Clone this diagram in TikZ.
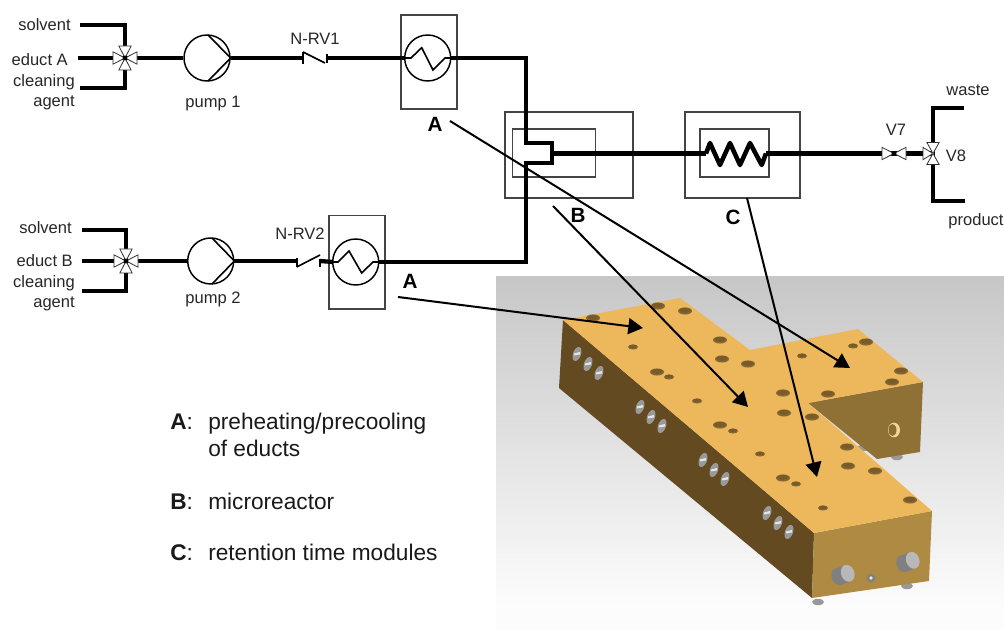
\documentclass[tikz,border=0pt]{standalone}
\usepackage{fontspec}
\setmainfont{Liberation Sans}
\usetikzlibrary{arrows.meta,shapes.geometric}
\definecolor{topface}{HTML}{EDB85C}
\definecolor{sideface}{HTML}{644A20}
\definecolor{frontface}{HTML}{AE8A42}
\definecolor{notchface}{HTML}{8F7136}
\definecolor{boxline}{HTML}{444444}
\tikzset{
  pipe/.style={line width=3.2pt,black,miter limit=10},
  thinpipe/.style={line width=1.2pt,black},
  framebox/.style={draw=boxline,line width=1.4pt},
  wheel/.style={circle,draw=black,line width=1.1pt,fill=white,inner sep=0pt,minimum size=34.5pt},
  lbl/.style={font=\fontsize{12.4pt}{14pt}\selectfont,text=black!85,inner sep=0pt,yshift=-1.5pt},
  letter/.style={font=\fontsize{15.5pt}{18pt}\selectfont\bfseries,inner sep=0pt,yshift=-2.8pt},
  legend/.style={font=\fontsize{17pt}{20pt}\selectfont,inner sep=0pt,text=black!90,yshift=-3pt},
  pointer/.style={line width=1.5pt,-{Triangle[length=11pt,width=12pt]}},
  valvetri/.style={draw=black!80,line width=.6pt,fill=white,line join=miter},
}
\newcommand{\hole}[3]{%
  \fill[black!20!topface!70!black] (#1,#2) ellipse [x radius=#3*.75pt,y radius=#3*.38pt];
  \fill[sideface!85!topface] (#1,#2-.6) ellipse [x radius=#3*.6pt,y radius=#3*.27pt];}
\newcommand{\screw}[2]{%
  \fill[black!40,rotate around={70:(#1,#2)}] (#1,#2) ellipse [x radius=5.5pt,y radius=3pt];
  \fill[black!10] (#1-3,#2-.5) -- (#1+3,#2-2) -- (#1+3,#2+.5) -- (#1-3,#2+1.5) -- cycle;}
\newcommand{\foot}[2]{\fill[black!40] (#1,#2) ellipse [x radius=4.5pt,y radius=2.4pt];}
% triangle pointing at (#1) from direction #2 (deg)
\newcommand{\vtri}[3]{\draw[valvetri,shift={(#1)},rotate=#2] (0,0) -- (#3*.75pt,4.6pt) -- (#3*.75pt,-4.6pt) -- cycle;}
\begin{document}
\begin{tikzpicture}[x=0.75pt,y=-0.75pt]
\useasboundingbox (0,0) rectangle (1004,630);
% photo background
\shade[top color=black!22,bottom color=black!1] (496,277) rectangle (1004,608);
\fill[black!1] (496,608) rectangle (1004,630);
% feet behind block
\foot{818}{602}\foot{907}{586}\foot{897}{457}\foot{863}{448}
% block faces
\fill[notchface] (808,403) -- (923,382) -- (920,452) -- (877,459) -- cycle;
\fill[sideface] (563,320) -- (559,388) -- (812,598) -- (814,533) -- cycle;
\fill[frontface] (814,533) -- (932,511) -- (929,581) -- (812,598) -- cycle;
\fill[topface] (563,320) -- (680,298) -- (750,350) -- (858,329) -- (923,382) -- (808,403) -- (932,511) -- (814,533) -- cycle;
% holes
\foreach \hx/\hy/\hr in {658/306/7,685/311/7,593/318/7,633/347/5,657/372/7,669/377/5,697/401/5,720/340/7,722/359/7,748/364/7,720/425/7,733/431/5,866/342/7,853/346/5,802/356/5,901/371/7,892/382/7,783/393/7,828/394/7,784/413/7,812/417/7,760/454/5,847/447/7,848/466/7,875/471/7,783/478/7,796/484/5,910/500/7,823/508/5}{\hole{\hx}{\hy}{\hr}}
% side screws
\foreach \sx/\sy in {577/354,588/364,599/373,640/407,651/417,662/426,703/460,714/470,725/479,767/513,778/523,789/532}{\screw{\sx}{\sy}}
% notch port
\fill[topface!60!white] (894,430) ellipse [x radius=4.5pt,y radius=5.5pt];
\fill[frontface!80!black] (892.5,430) ellipse [x radius=3pt,y radius=4.5pt];
% front bolts
\foreach \bx/\by in {843/575,908/562}{
  \fill[black!50,rotate around={20:(\bx,\by)}] (\bx-5,\by) ellipse [x radius=5pt,y radius=6.5pt];
  \fill[black!50,rotate around={20:(\bx,\by)}] (\bx-5,\by-8.5) rectangle (\bx+5,\by+8.5);
  \fill[black!28,rotate around={20:(\bx,\by)}] (\bx+5,\by) ellipse [x radius=5pt,y radius=6.5pt];
}
\fill[black!50] (871,578) circle [radius=3.2pt];
\fill[black!10] (871,578) circle [radius=1.4pt];

% frames
\node[framebox,inner sep=0pt,minimum width=42.6pt,minimum height=70.5pt] (he1box) at (429,62) {};
\node[framebox,inner sep=0pt,minimum width=42pt,minimum height=70.2pt] (he2box) at (357,262.3) {};
\node[framebox,inner sep=0pt,minimum width=96pt,minimum height=65pt] (bouter) at (569,155) {};
\node[framebox,inner sep=0pt,minimum width=62.3pt,minimum height=35.8pt] (binner) at (554,153) {};
\node[framebox,inner sep=0pt,minimum width=86.2pt,minimum height=65pt] (couter) at (742.5,155) {};
\node[framebox,inner sep=0pt,minimum width=51.8pt,minimum height=36pt] (cinner) at (734.5,153) {};

% coordinates
\coordinate (v1) at (125,58);
\coordinate (v2) at (126,261);
\coordinate (v7) at (894,153.5);
\coordinate (v8) at (933,153.5);
\coordinate (s1) at (80,25); \coordinate (e1) at (78,58); \coordinate (c1) at (80,88);
\coordinate (s2) at (82,230); \coordinate (e2) at (82,261); \coordinate (c2) at (82,291);
\coordinate (waste) at (964,107.7); \coordinate (product) at (965,200.7);
\coordinate (nrv1a) at (303,58); \coordinate (nrv1b) at (327,58);
\coordinate (nrv2a) at (296.7,261); \coordinate (nrv2b) at (320,261);
\coordinate (h1in) at (405,58); \coordinate (h1out) at (451,58);
\coordinate (h2in) at (333,262); \coordinate (h2out) at (379,262);
\coordinate (tee1) at (526,143); \coordinate (tee2) at (526,163);
\coordinate (rout) at (552,153.5);
\coordinate (cin) at (706,153.5); \coordinate (cout) at (766,153.5);

% pumps
\node[wheel] (p1) at (207,58) {};
\node[wheel] (p2) at (210.7,261) {};
\draw[thinpipe,line join=miter] (208,35) -- (p1.east) -- (208,81);
\draw[thinpipe,line join=miter] (212,238) -- (p2.east) -- (212,284);

% pipes
\draw[pipe] (s1) -| (v1);
\draw[pipe] (c1) -| (v1);
\draw[pipe] (e1) -- (v1) -- (p1.west);
\draw[pipe] (s2) -| (v2);
\draw[pipe] (c2) -| (v2);
\draw[pipe] (e2) -- (v2) -- (p2.west);
\draw[pipe] (p1.east) -- (nrv1a);
\draw[pipe] (p2.east) -- (nrv2a);
\draw[pipe] (nrv1b) -- (h1in);
\draw[pipe] (nrv2b) -- (h2in);
\draw[pipe] (h1out) -| (tee1) -- (552,143) -- (552,163) -- (tee2) |- (h2out);
\draw[pipe] (rout) -- (cin);
\draw[pipe] (cout) -- (v7) -- (v8);
\draw[pipe] (waste) -| (v8);
\draw[pipe] (product) -| (v8);

% check valves
\draw[thinpipe,line join=miter] (303,52) -- (303,64);
\draw[thinpipe] (303,52) -- (325,63);
\draw[thinpipe,line width=1.6pt] (327,54) -- (327,63);
\draw[thinpipe] (296.7,258) -- (296.7,267);
\draw[thinpipe] (296.7,267) -- (320,255);
\draw[thinpipe,line width=1.6pt] (320,259) -- (320,267);

% heat exchangers
\node[wheel,fill=none] (h1) at (427.7,58) {};
\node[wheel,fill=none] (h2) at (355.7,262) {};
\draw[thinpipe,fill=none] (h1in) -- (411,58) -- (421.7,47.7) -- (433,70) -- (445,58) -- (h1out);
\draw[thinpipe,fill=none] (h2in) -- (338,262) -- (349,251) -- (361.7,273) -- (373,262) -- (h2out);

% coil
\draw[line width=3.4pt,line join=round] (cin) -- (710,143) -- (720,165) -- (730,143) -- (740,165) -- (750,143) -- (761.7,165) -- (cout);

% valves
\foreach \vv in {v1,v2}{
  \vtri{\vv}{0}{12}\vtri{\vv}{90}{12}\vtri{\vv}{180}{12}\vtri{\vv}{270}{12}
  \fill (\vv) circle [radius=1.8pt];
}
\vtri{v7}{0}{12}\vtri{v7}{180}{12}\fill (v7) circle [radius=1.8pt];
\vtri{v8}{90}{11}\vtri{v8}{180}{10}\vtri{v8}{270}{11}\fill[black!60] (v8) circle [radius=1pt];

% labels
\node[lbl,anchor=mid east] (t1) at (71,25) {solvent};
\node[lbl,anchor=mid east] (t2) at (68,60) {educt A};
\node[lbl,anchor=mid east] (t3) at (75,81) {cleaning};
\node[lbl,anchor=mid east] (t4) at (75,101) {agent};
\node[lbl,anchor=mid] (t5) at (213,102) {pump 1};
\node[lbl,anchor=mid] (t6) at (315,39) {N-RV1};
\node[lbl,anchor=mid east] (t7) at (72,228) {solvent};
\node[lbl,anchor=mid east] (t8) at (73,261) {educt B};
\node[lbl,anchor=mid east] (t9) at (75,282) {cleaning};
\node[lbl,anchor=mid east] (t10) at (75,302) {agent};
\node[lbl,anchor=mid] (t11) at (213,298) {pump 2};
\node[lbl,anchor=mid] (t12) at (300,234) {N-RV2};
\node[lbl,anchor=mid] (t13) at (896,130) {V7};
\node[lbl,anchor=mid] (t14) at (956,156) {V8};
\node[lbl,anchor=mid] (t15) at (968,90) {waste};
\node[lbl,anchor=mid] (t16) at (976,220) {product};
\node[letter,anchor=mid] (la1) at (435,124) {A};
\node[letter,anchor=mid] (la2) at (410,281) {A};
\node[letter,anchor=mid] (lb) at (578,215) {B};
\node[letter,anchor=mid] (lc) at (733,217) {C};

% pointers
\coordinate (a1s) at (450,121); \coordinate (a1e) at (850,368);
\coordinate (a2s) at (398,297); \coordinate (a2e) at (643,328);
\coordinate (bs) at (553,206); \coordinate (be) at (748,407);
\coordinate (cs) at (747,198); \coordinate (ce) at (817,477);
\draw[pointer] (a1s) -- (a1e);
\draw[pointer] (a2s) -- (a2e);
\draw[pointer] (bs) -- (be);
\draw[pointer] (cs) -- (ce);

% legend
\node[legend,anchor=mid west] (k1) at (170,422) {\textbf{A}:};
\node[legend,anchor=mid west] (k2) at (208,422) {preheating/precooling};
\node[legend,anchor=mid west] (k3) at (208,449) {of educts};
\node[legend,anchor=mid west] (k4) at (170,502) {\textbf{B}:};
\node[legend,anchor=mid west] (k5) at (208,502) {microreactor};
\node[legend,anchor=mid west] (k6) at (170,553) {\textbf{C}:};
\node[legend,anchor=mid west] (k7) at (208,553) {retention time modules};
\end{tikzpicture}
\end{document}
